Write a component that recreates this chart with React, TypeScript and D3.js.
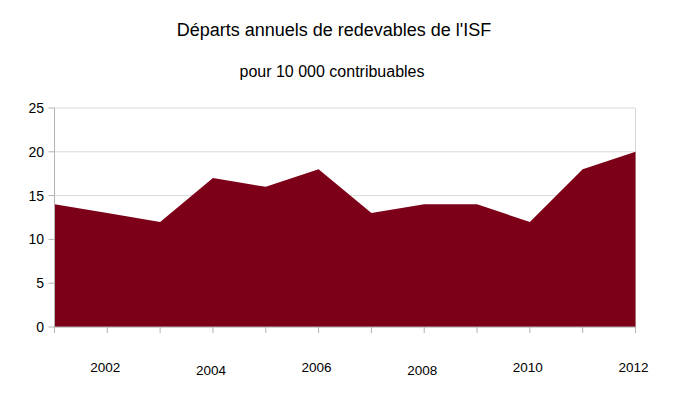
import React from "react";
import * as d3 from "d3";

const years = [2001, 2002, 2003, 2004, 2005, 2006, 2007, 2008, 2009, 2010, 2011, 2012];
const departures = [14, 13, 12, 17, 16, 18, 13, 14, 14, 12, 18, 20];
const yTicks = [0, 5, 10, 15, 20, 25];
const xLabelYears = [2002, 2004, 2006, 2008, 2010, 2012];
const xLabelLow = [false, true, false, true, false, false];
const title = "Départs annuels de redevables de l'ISF";
const subtitle = "pour 10 000 contribuables";

export default function App() {
  const W = 684, H = 409;
  const left = 54.5, right = 635.5, top = 108, bottom = 327;
  const x = d3.scaleLinear().domain([2001, 2012]).range([left, right]);
  const y = d3.scaleLinear().domain([0, 25]).range([bottom, top]);
  const data = years.map((yr, i) => ({ yr, v: departures[i] }));
  const area = d3.area<{ yr: number; v: number }>()
    .x(d => x(d.yr))
    .y0(y(0))
    .y1(d => y(d.v));
  const font = "'Liberation Sans', Arial, sans-serif";
  return (
    <svg width={W} height={H} style={{ position: "absolute", left: 0, top: 0, background: "#fff" }} fontFamily={font}>
      <text x={334} y={36} textAnchor="middle" fontSize={18} fill="#000">{title}</text>
      <text x={332} y={77} textAnchor="middle" fontSize={16} fill="#000">{subtitle}</text>
      {yTicks.map(t => (
        <g key={t}>
          <line x1={left} x2={right} y1={y(t)} y2={y(t)} stroke="#d9d9d9" strokeWidth={1} />
          <line x1={left - 6} x2={left} y1={y(t)} y2={y(t)} stroke="#b3b3b3" strokeWidth={1} />
          <text x={44} y={y(t) + 5} textAnchor="end" fontSize={14} fill="#000">{t}</text>
        </g>
      ))}
      <line x1={right} x2={right} y1={top} y2={bottom} stroke="#d9d9d9" strokeWidth={1} />
      <path d={area(data) || ""} fill="#7d0019" />
      <line x1={left} x2={left} y1={top} y2={bottom} stroke="#b3b3b3" strokeWidth={1} />
      <line x1={left} x2={right} y1={bottom} y2={bottom} stroke="#b3b3b3" strokeWidth={1} />
      {years.map(yr => (
        <line key={yr} x1={x(yr)} x2={x(yr)} y1={bottom} y2={bottom + 6} stroke="#b3b3b3" strokeWidth={1} />
      ))}
      {xLabelYears.map((yr, i) => (
        <text key={yr} x={x(yr) - 2} y={xLabelLow[i] ? 374.5 : 372} textAnchor="middle" fontSize={13.5} fill="#000">{yr}</text>
      ))}
    </svg>
  );
}
